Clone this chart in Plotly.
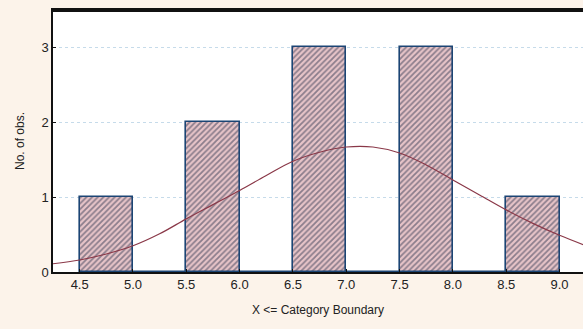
import plotly.graph_objects as go

# Histogram bins (upper category boundaries) and counts
bin_lower = [4.5, 5.0, 5.5, 6.0, 6.5, 7.0, 7.5, 8.0, 8.5]
bin_upper = [5.0, 5.5, 6.0, 6.5, 7.0, 7.5, 8.0, 8.5, 9.0]
counts = [1, 0, 2, 0, 3, 0, 3, 0, 1]

# Fitted normal curve
curve_x = [4.25, 4.5, 4.75, 5.0, 5.25, 5.5, 5.75, 6.0, 6.25, 6.5, 6.75,
           7.0, 7.25, 7.5, 7.75, 8.0, 8.25, 8.5, 8.75, 9.0, 9.25]
curve_y = [0.11, 0.16, 0.24, 0.35, 0.51, 0.71, 0.90, 1.09, 1.29, 1.48, 1.60,
           1.67, 1.67, 1.59, 1.43, 1.23, 1.03, 0.83, 0.65, 0.49, 0.35]

x_ticks = [4.5, 5.0, 5.5, 6.0, 6.5, 7.0, 7.5, 8.0, 8.5, 9.0]
x_tick_labels = ["4.5", "5.0", "5.5", "6.0", "6.5", "7.0", "7.5", "8.0", "8.5", "9.0"]
y_ticks = [0, 1, 2, 3]

centers = [(a + b) / 2 for a, b in zip(bin_lower, bin_upper)]
widths = [b - a for a, b in zip(bin_lower, bin_upper)]

fig = go.Figure()
fig.add_trace(go.Bar(
    x=centers, y=counts, width=widths,
    marker=dict(
        color="#e7c4c8",
        line=dict(color="#1c4574", width=1.6),
        pattern=dict(shape="/", fgcolor="#30354f", bgcolor="#e7c4c8",
                     size=4, solidity=0.45),
    ),
    showlegend=False,
))
fig.add_trace(go.Scatter(
    x=curve_x, y=curve_y, mode="lines",
    line=dict(color="#8a3848", width=1.2, shape="spline"),
    showlegend=False,
))

fig.update_layout(
    width=583, height=329,
    margin=dict(l=53, r=0, t=10, b=57, autoexpand=False),
    paper_bgcolor="#fcf3ea",
    plot_bgcolor="#ffffff",
    font=dict(family="Liberation Sans, Arial, sans-serif", size=13, color="#222222"),
    bargap=0,
    shapes=[dict(type="line", xref="paper", yref="paper", x0=0, x1=1,
                 y0=0.996, y1=0.996,
                 line=dict(color="#111111", width=2), layer="above")],
)
fig.update_xaxes(
    range=[4.25, 9.22], tickvals=x_ticks, ticktext=x_tick_labels,
    automargin=False,
    showgrid=False, zeroline=False,
    showline=True, linecolor="#111111", linewidth=1.5, mirror=True,
    ticks="inside", ticklen=3, tickcolor="#111111",
    title=dict(text="X <= Category Boundary", font=dict(size=12), standoff=14),
)
fig.update_yaxes(
    range=[0, 3.5], tickvals=y_ticks,
    automargin=False,
    showgrid=True, gridcolor="#c6dbea", griddash="dot", gridwidth=1,
    zeroline=False,
    showline=True, linecolor="#111111", linewidth=1.5,
    ticks="inside", ticklen=3, tickcolor="#111111",
    title=dict(text="No. of obs.", font=dict(size=12), standoff=14),
)

fig.write_html(
    "out.html",
    config={"displayModeBar": False},
    post_script="document.body.style.margin='0';document.body.style.overflow='hidden';document.body.style.background='#fcf3ea';",
)
